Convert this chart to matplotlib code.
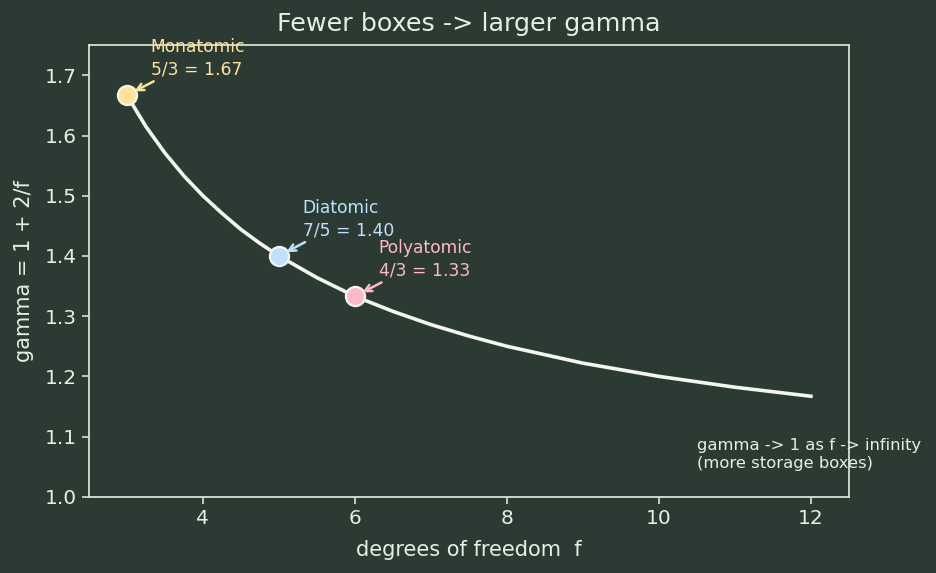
import matplotlib.pyplot as plt

# curve values
f_vals = [3, 3.25, 3.5, 3.75, 4, 4.25, 4.5, 4.75, 5, 5.5, 6, 6.5, 7, 7.5, 8, 9, 10, 11, 12]
gamma_vals = [1.667, 1.615, 1.571, 1.533, 1.500, 1.471, 1.444, 1.421, 1.400, 1.364,
              1.333, 1.308, 1.286, 1.267, 1.250, 1.222, 1.200, 1.182, 1.167]

# labelled gases
gas_names = ["Monatomic", "Diatomic", "Polyatomic"]
gas_frac = ["5/3 = 1.67", "7/5 = 1.40", "4/3 = 1.33"]
gas_f = [3, 5, 6]
gas_gamma = [1.667, 1.400, 1.333]
gas_colors = ["#ffe29a", "#bfe0ff", "#ffb8c6"]

BG = "#2b3b33"
FG = "#e6efe4"
SPINE = "#d5e3d3"

fig = plt.figure(figsize=(9.36, 5.73), dpi=100, facecolor=BG)
ax = fig.add_axes([0.095, 0.133, 0.812, 0.788], facecolor=BG)

ax.plot(f_vals, gamma_vals, color="#f2f6ec", lw=2.6, zorder=2)
ax.axhline(1.0, color=SPINE, ls="--", lw=1, alpha=0.4, zorder=1)

for name, lab, x, y, c in zip(gas_names, gas_frac, gas_f, gas_gamma, gas_colors):
    ax.scatter([x], [y], s=190, color=c, edgecolor="#f4f7f0", linewidth=1.6, zorder=3)
    ax.annotate(name + "\n" + lab, xy=(x, y), xytext=(17, 12), textcoords="offset points",
                ha="left", va="bottom", color=c, fontsize=12.3, linespacing=1.3,
                arrowprops=dict(arrowstyle="->", color=c, lw=1.8, shrinkA=0, shrinkB=6))

ax.text(10.5, 1.043, "gamma -> 1 as f -> infinity\n(more storage boxes)", color=FG,
        fontsize=11.8, ha="left", va="bottom", clip_on=False, linespacing=1.25)

ax.set_xlim(2.5, 12.5)
ax.set_ylim(1.0, 1.75)
ax.set_xticks([4, 6, 8, 10, 12])
ax.set_yticks([1.0, 1.1, 1.2, 1.3, 1.4, 1.5, 1.6, 1.7])

ax.set_title("Fewer boxes -> larger gamma", color=FG, fontsize=18.3, pad=10)
ax.set_xlabel("degrees of freedom  f", color=FG, fontsize=15, labelpad=9)
ax.set_ylabel("gamma = 1 + 2/f", color=FG, fontsize=15, labelpad=8)

ax.tick_params(colors=SPINE, labelcolor=FG, labelsize=14.5, length=5, width=1.2)
for s in ax.spines.values():
    s.set_color(SPINE)
    s.set_linewidth(1.3)

fig.savefig("out.png", dpi=100, facecolor=BG)
